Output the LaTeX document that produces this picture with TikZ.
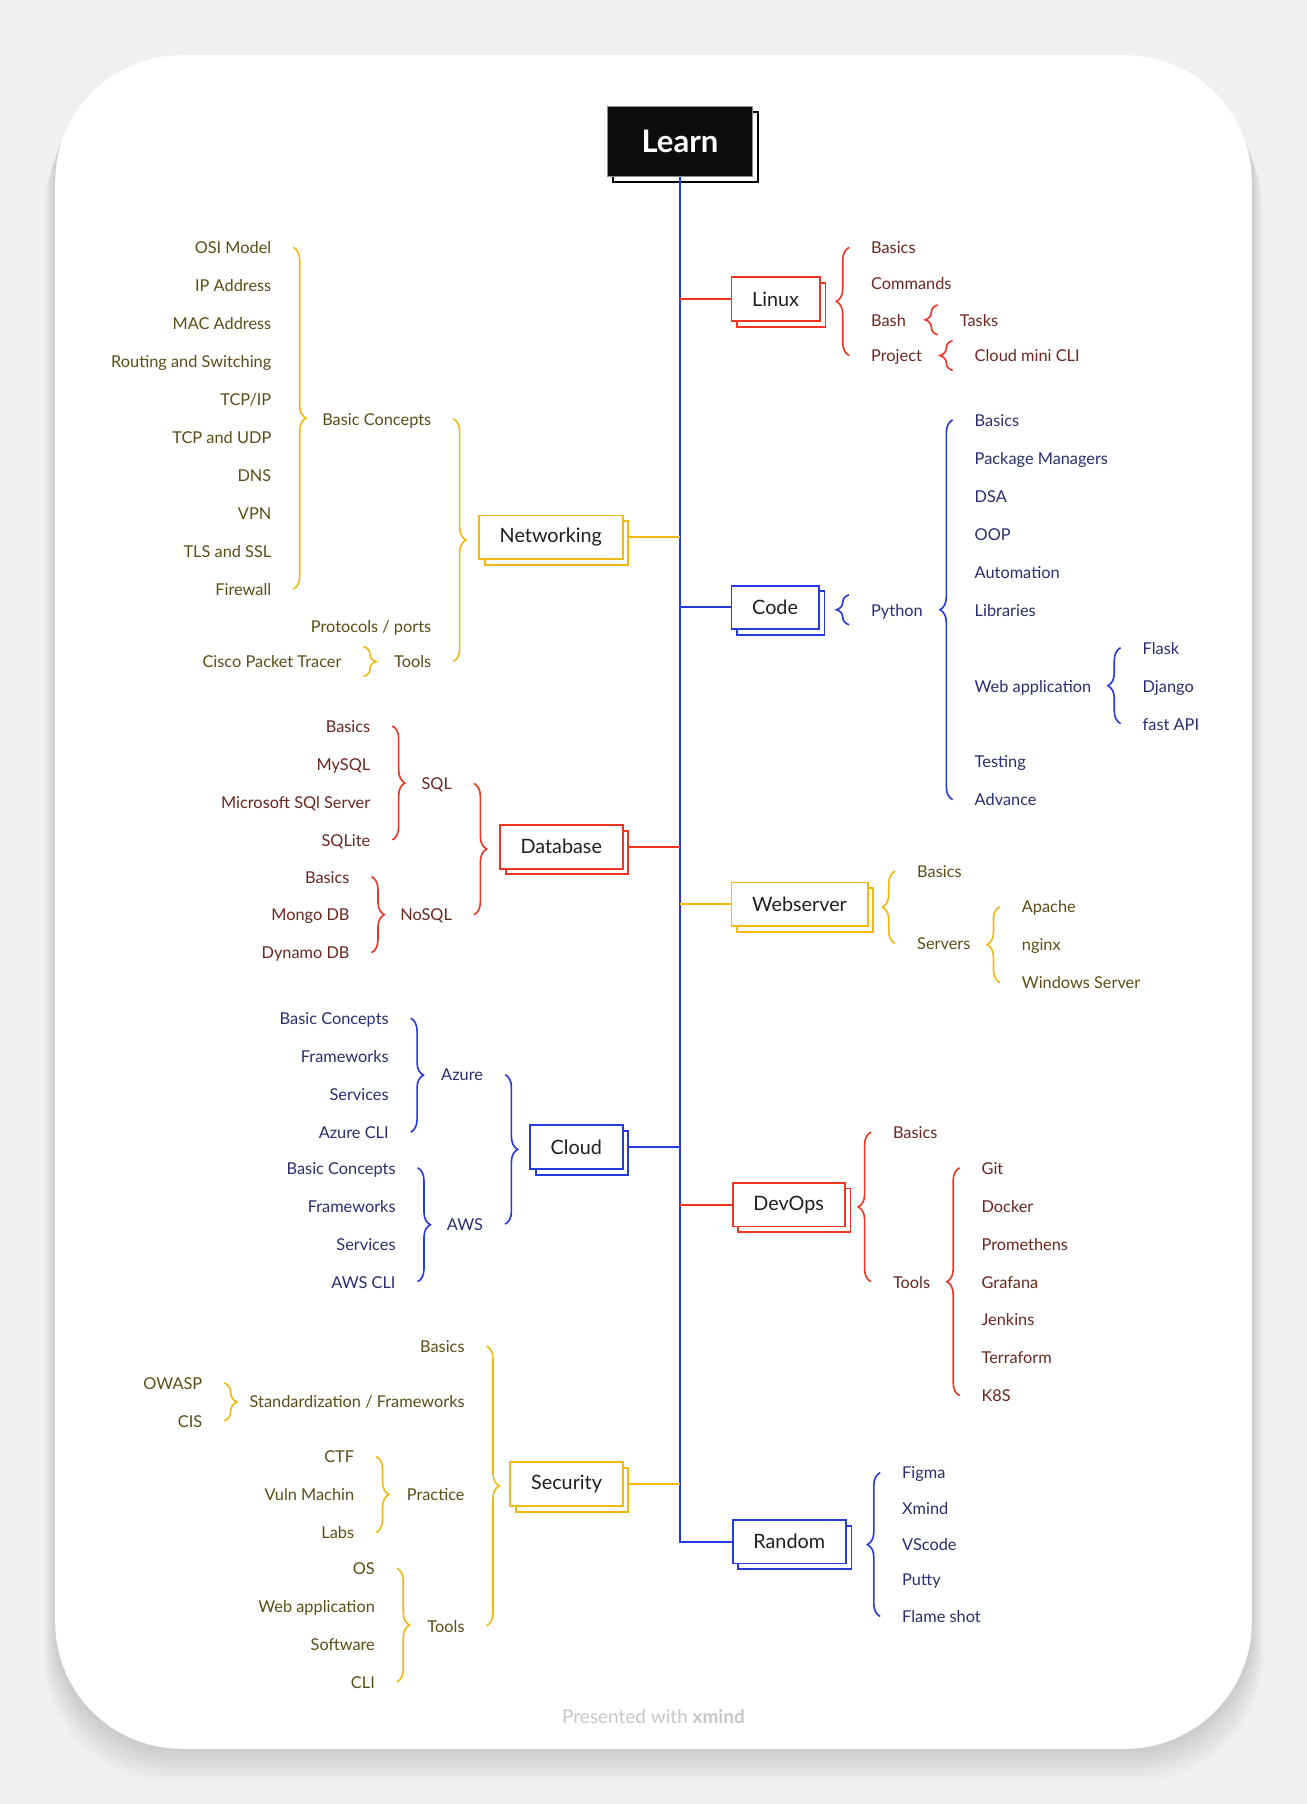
\documentclass[tikz,border=0pt]{standalone}
\usepackage{fontspec}
\setmainfont{Lato}
\usetikzlibrary{shadows,decorations.pathreplacing}

\definecolor{xmRed}{RGB}{240,52,34}
\definecolor{xmYellow}{RGB}{242,184,18}
\definecolor{xmBlue}{RGB}{36,58,220}
\definecolor{txRed}{RGB}{108,38,30}
\definecolor{txYellow}{RGB}{94,76,22}
\definecolor{txBlue}{RGB}{40,46,112}
\definecolor{bgGray}{RGB}{240,240,240}
\definecolor{xmInk}{RGB}{13,13,13}
\newcommand{\leaffont}{\fontsize{14.2}{16}\selectfont}

\begin{document}
\begin{tikzpicture}[x=1pt,y=-1pt,
    leafR/.style={anchor=west,inner sep=0pt,text height=11pt,text depth=0pt,font=\leaffont,text=#1},
    leafL/.style={anchor=east,inner sep=0pt,text height=11pt,text depth=0pt,font=\leaffont,text=#1},
    topic/.style={draw=#1,line width=1.6pt,fill=white,text=black!88,minimum height=38pt,inner xsep=18pt,
        font=\fontsize{17.2}{19}\selectfont,
        copy shadow={shadow xshift=5pt,shadow yshift=-5pt,draw=#1,fill=white}},
    brk/.style={decorate,decoration={brace,amplitude=11pt},line width=1.4pt},
    branch/.style={line width=1.7pt}]
    % Page and card
    \fill[bgGray] (0,0) rectangle (1136,1568);
    \useasboundingbox (0,0) rectangle (1136,1568);
    \foreach \s in {1,...,12}
        \fill[black,opacity=0.011,rounded corners=110] (48-\s*0.8,48+\s*2) rectangle (1088+\s*0.8,1520+\s*2.4);
    \fill[white,rounded corners=110] (48,48) rectangle (1088,1520);

    % Central topic
    \node[fill=xmInk,draw=black!45,line width=1.2pt,text=white,minimum width=126pt,minimum height=61pt,
        font=\fontsize{27}{30}\selectfont\bfseries,
        copy shadow={shadow xshift=5pt,shadow yshift=-5pt,draw=black,fill=white,line width=1.8pt}]
        (learn) at (591,123) {Learn};

    % Main topics, right
    \node[topic=xmRed,anchor=west] (linux) at (635,260) {Linux};
    \node[topic=xmBlue,anchor=west] (code) at (635,528) {Code};
    \node[topic=xmYellow,anchor=west] (websrv) at (635,786) {Webserver};
    \node[topic=xmRed,anchor=west] (devops) at (636,1047) {DevOps};
    \node[topic=xmBlue,anchor=west] (random) at (636,1340) {Random};

    % Main topics, left
    \node[topic=xmYellow,anchor=east] (net) at (542,467) {Networking};
    \node[topic=xmRed,anchor=east] (dbase) at (542,736) {Database};
    \node[topic=xmBlue,anchor=east] (cloud) at (542,997) {Cloud};
    \node[topic=xmYellow,anchor=east] (secu) at (542,1290) {Security};

    % Branches
    \draw[branch,xmBlue] (learn.south) |- (random.west);
    \draw[branch,xmRed] (linux.west -| learn.south) -- (linux.west);
    \draw[branch,xmBlue] (code.west -| learn.south) -- (code.west);
    \draw[branch,xmYellow] (websrv.west -| learn.south) -- (websrv.west);
    \draw[branch,xmRed] (devops.west -| learn.south) -- (devops.west);
    \draw[branch,xmYellow] ([xshift=5pt]net.east) -- (net.east -| learn.south);
    \draw[branch,xmRed] ([xshift=5pt]dbase.east) -- (dbase.east -| learn.south);
    \draw[branch,xmBlue] ([xshift=5pt]cloud.east) -- (cloud.east -| learn.south);
    \draw[branch,xmYellow] ([xshift=5pt]secu.east) -- (secu.east -| learn.south);

    % Linux
    \node[leafR=txRed] (lxBasics) at (757,215) {Basics};
    \node[leafR=txRed] (lxCommands) at (757,246) {Commands};
    \node[leafR=txRed] (lxBash) at (757,278) {Bash};
    \node[leafR=txRed] (lxProject) at (757,309) {Project};
    \node[leafR=txRed] (lxTasks) at (834,278) {Tasks};
    \node[leafR=txRed] (lxCloudCli) at (847,309) {Cloud mini CLI};
    \draw[brk,xmRed] ([xshift=-19pt]lxProject.west) -- ([xshift=-19pt]lxBasics.west);
    \draw[brk,xmRed] ([shift={(-19pt,-13pt)}]lxTasks.west) -- ([shift={(-19pt,13pt)}]lxTasks.west);
    \draw[brk,xmRed] ([shift={(-19pt,-13pt)}]lxCloudCli.west) -- ([shift={(-19pt,13pt)}]lxCloudCli.west);

    % Code
    \node[leafR=txBlue] (cdPython) at (757,530) {Python};
    \node[leafR=txBlue] (pyBasics) at (847,365) {Basics};
    \node[leafR=txBlue] (pyPkg) at (847,398) {Package Managers};
    \node[leafR=txBlue] (pyDsa) at (847,431) {DSA};
    \node[leafR=txBlue] (pyOop) at (847,464) {OOP};
    \node[leafR=txBlue] (pyAuto) at (847,497) {Automation};
    \node[leafR=txBlue] (pyLibs) at (847,530) {Libraries};
    \node[leafR=txBlue] (pyWeb) at (847,596) {Web application};
    \node[leafR=txBlue] (pyTest) at (847,662) {Testing};
    \node[leafR=txBlue] (pyAdv) at (847,695) {Advance};
    \node[leafR=txBlue] (wbFlask) at (993,563) {Flask};
    \node[leafR=txBlue] (wbDjango) at (993,596) {Django};
    \node[leafR=txBlue] (wbFast) at (993,629) {fast API};
    \draw[brk,xmBlue] ([shift={(-19pt,-13pt)}]cdPython.west) -- ([shift={(-19pt,13pt)}]cdPython.west);
    \draw[brk,xmBlue] ([xshift=-19pt]pyAdv.west) -- ([xshift=-19pt]pyBasics.west);
    \draw[brk,xmBlue] ([xshift=-19pt]wbFast.west) -- ([xshift=-19pt]wbFlask.west);

    % Webserver
    \node[leafR=txYellow] (wsBasics) at (797,757) {Basics};
    \node[leafR=txYellow] (wsServers) at (797,820) {Servers};
    \node[leafR=txYellow] (svApache) at (888,788) {Apache};
    \node[leafR=txYellow] (svNginx) at (888,821) {nginx};
    \node[leafR=txYellow] (svWindows) at (888,854) {Windows Server};
    \draw[brk,xmYellow] ([xshift=-19pt]wsServers.west) -- ([xshift=-19pt]wsBasics.west);
    \draw[brk,xmYellow] ([xshift=-19pt]svWindows.west) -- ([xshift=-19pt]svApache.west);

    % DevOps
    \node[leafR=txRed] (dvBasics) at (776,984) {Basics};
    \node[leafR=txRed] (dvTools) at (776,1114) {Tools};
    \node[leafR=txRed] (tlGit) at (853,1015) {Git};
    \node[leafR=txRed] (tlDocker) at (853,1048) {Docker};
    \node[leafR=txRed] (tlProm) at (853,1081) {Promethens};
    \node[leafR=txRed] (tlGrafana) at (853,1114) {Grafana};
    \node[leafR=txRed] (tlJenkins) at (853,1147) {Jenkins};
    \node[leafR=txRed] (tlTerra) at (853,1180) {Terraform};
    \node[leafR=txRed] (tlKube) at (853,1213) {K8S};
    \draw[brk,xmRed] ([xshift=-19pt]dvTools.west) -- ([xshift=-19pt]dvBasics.west);
    \draw[brk,xmRed] ([xshift=-19pt]tlKube.west) -- ([xshift=-19pt]tlGit.west);

    % Random
    \node[leafR=txBlue] (rdFigma) at (784,1280) {Figma};
    \node[leafR=txBlue] (rdXmind) at (784,1311) {Xmind};
    \node[leafR=txBlue] (rdVscode) at (784,1342) {VScode};
    \node[leafR=txBlue] (rdPutty) at (784,1373) {Putty};
    \node[leafR=txBlue] (rdFlame) at (784,1405) {Flame shot};
    \draw[brk,xmBlue] ([xshift=-19pt]rdFlame.west) -- ([xshift=-19pt]rdFigma.west);

    % Networking
    \node[leafL=txYellow] (ntBasic) at (375,364) {Basic Concepts};
    \node[leafL=txYellow] (ntProto) at (375,544) {Protocols / ports};
    \node[leafL=txYellow] (ntTools) at (375,575) {Tools};
    \node[leafL=txYellow] (bcOsi) at (236,215) {OSI Model};
    \node[leafL=txYellow] (bcIp) at (236,248) {IP Address};
    \node[leafL=txYellow] (bcMac) at (236,281) {MAC Address};
    \node[leafL=txYellow] (bcRouting) at (236,314) {Routing and Switching};
    \node[leafL=txYellow] (bcTcpIp) at (236,347) {TCP/IP};
    \node[leafL=txYellow] (bcTcpUdp) at (236,380) {TCP and UDP};
    \node[leafL=txYellow] (bcDns) at (236,413) {DNS};
    \node[leafL=txYellow] (bcVpn) at (236,446) {VPN};
    \node[leafL=txYellow] (bcTls) at (236,479) {TLS and SSL};
    \node[leafL=txYellow] (bcFirewall) at (236,512) {Firewall};
    \node[leafL=txYellow] (ntCisco) at (297,575) {Cisco Packet Tracer};
    \draw[brk,xmYellow] ([xshift=19pt]ntBasic.east) -- ([xshift=19pt]ntTools.east);
    \draw[brk,xmYellow] ([xshift=19pt]bcOsi.east) -- ([xshift=19pt]bcFirewall.east);
    \draw[brk,xmYellow] ([shift={(19pt,13pt)}]ntCisco.east) -- ([shift={(19pt,-13pt)}]ntCisco.east);

    % Database
    \node[leafL=txRed] (dbSql) at (393,681) {SQL};
    \node[leafL=txRed] (dbNosql) at (393,795) {NoSQL};
    \node[leafL=txRed] (sqBasics) at (322,631) {Basics};
    \node[leafL=txRed] (sqMy) at (322,664) {MySQL};
    \node[leafL=txRed] (sqMs) at (322,697) {Microsoft SQl Server};
    \node[leafL=txRed] (sqLite) at (322,730) {SQLite};
    \node[leafL=txRed] (nsBasics) at (304,762) {Basics};
    \node[leafL=txRed] (nsMongo) at (304,795) {Mongo DB};
    \node[leafL=txRed] (nsDynamo) at (304,828) {Dynamo DB};
    \draw[brk,xmRed] ([xshift=19pt]dbSql.east) -- ([xshift=19pt]dbNosql.east);
    \draw[brk,xmRed] ([xshift=19pt]sqBasics.east) -- ([xshift=19pt]sqLite.east);
    \draw[brk,xmRed] ([xshift=19pt]nsBasics.east) -- ([xshift=19pt]nsDynamo.east);

    % Cloud
    \node[leafL=txBlue] (clAzure) at (420,934) {Azure};
    \node[leafL=txBlue] (clAws) at (420,1064) {AWS};
    \node[leafL=txBlue] (azBasic) at (338,885) {Basic Concepts};
    \node[leafL=txBlue] (azFrame) at (338,918) {Frameworks};
    \node[leafL=txBlue] (azServ) at (338,951) {Services};
    \node[leafL=txBlue] (azCli) at (338,984) {Azure CLI};
    \node[leafL=txBlue] (awBasic) at (344,1015) {Basic Concepts};
    \node[leafL=txBlue] (awFrame) at (344,1048) {Frameworks};
    \node[leafL=txBlue] (awServ) at (344,1081) {Services};
    \node[leafL=txBlue] (awCli) at (344,1114) {AWS CLI};
    \draw[brk,xmBlue] ([xshift=19pt]clAzure.east) -- ([xshift=19pt]clAws.east);
    \draw[brk,xmBlue] ([xshift=19pt]azBasic.east) -- ([xshift=19pt]azCli.east);
    \draw[brk,xmBlue] ([xshift=19pt]awBasic.east) -- ([xshift=19pt]awCli.east);

    % Security
    \node[leafL=txYellow] (scBasics) at (404,1170) {Basics};
    \node[leafL=txYellow] (scStd) at (404,1218) {Standardization / Frameworks};
    \node[leafL=txYellow] (scPractice) at (404,1299) {Practice};
    \node[leafL=txYellow] (scTools) at (404,1413) {Tools};
    \node[leafL=txYellow] (stOwasp) at (176,1202) {OWASP};
    \node[leafL=txYellow] (stCis) at (176,1235) {CIS};
    \node[leafL=txYellow] (prCtf) at (308,1266) {CTF};
    \node[leafL=txYellow] (prVuln) at (308,1299) {Vuln Machin};
    \node[leafL=txYellow] (prLabs) at (308,1332) {Labs};
    \node[leafL=txYellow] (toOs) at (326,1363) {OS};
    \node[leafL=txYellow] (toWeb) at (326,1396) {Web application};
    \node[leafL=txYellow] (toSoft) at (326,1429) {Software};
    \node[leafL=txYellow] (toCli) at (326,1462) {CLI};
    \draw[brk,xmYellow] ([xshift=19pt]scBasics.east) -- ([xshift=19pt]scTools.east);
    \draw[brk,xmYellow] ([xshift=19pt]stOwasp.east) -- ([xshift=19pt]stCis.east);
    \draw[brk,xmYellow] ([xshift=19pt]prCtf.east) -- ([xshift=19pt]prLabs.east);
    \draw[brk,xmYellow] ([xshift=19pt]toOs.east) -- ([xshift=19pt]toCli.east);

    % Footer
    \node[font=\fontsize{16.5}{18}\selectfont,text=black!22] (footer) at (568,1492) {Presented with \textbf{xmind}};
\end{tikzpicture}
\end{document}
